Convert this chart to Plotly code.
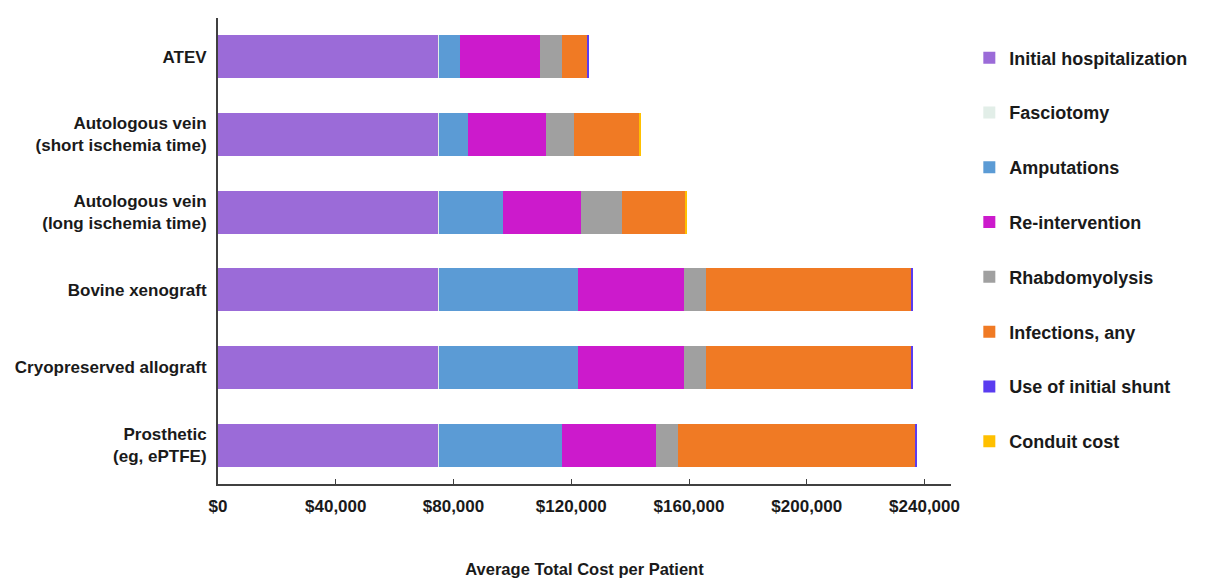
import plotly.graph_objects as go

categories = [
    "ATEV",
    "Autologous vein<br>(short ischemia time)",
    "Autologous vein<br>(long ischemia time)",
    "Bovine xenograft",
    "Cryopreserved allograft",
    "Prosthetic<br>(eg, ePTFE)",
]

initial_hospitalization = [74900, 74900, 74900, 75000, 75000, 75000]
fasciotomy = [200, 200, 200, 200, 200, 200]
amputations = [7200, 9700, 21700, 47000, 47000, 41500]
re_intervention = [27000, 26500, 26400, 36000, 36000, 32100]
rhabdomyolysis = [7700, 9600, 13900, 7600, 7600, 7600]
infections = [8400, 22200, 21700, 69800, 69800, 80600]
initial_shunt = [400, 0, 0, 400, 400, 600]
conduit_cost = [0, 400, 400, 0, 0, 0]

series = [
    ("Initial hospitalization", initial_hospitalization, "#9B6BD8"),
    ("Fasciotomy", fasciotomy, "#E2EEE8"),
    ("Amputations", amputations, "#5B9BD5"),
    ("Re-intervention", re_intervention, "#CC1ACC"),
    ("Rhabdomyolysis", rhabdomyolysis, "#A0A0A0"),
    ("Infections, any", infections, "#F07A24"),
    ("Use of initial shunt", initial_shunt, "#5A3CF0"),
    ("Conduit cost", conduit_cost, "#FFC000"),
]

x_tickvals = [0, 40000, 80000, 120000, 160000, 200000, 240000]
x_ticktext = ["$0", "$40,000", "$80,000", "$120,000", "$160,000", "$200,000", "$240,000"]

font_family = "Arial, Liberation Sans, sans-serif"

fig = go.Figure()
for i, (name, vals, color) in enumerate(series):
    fig.add_trace(go.Bar(
        y=categories, x=vals, name=name, orientation="h",
        marker=dict(color=color, line=dict(width=0)),
        legendgroup=f"g{i}",
        width=0.55,
    ))

fig.update_layout(
    barmode="stack",
    width=1213, height=584,
    margin=dict(l=218, r=262, t=18, b=100),
    paper_bgcolor="white", plot_bgcolor="white",
    font=dict(family=font_family, color="#1a1a1a"),
    showlegend=True,
    legend=dict(
        x=1.025, xanchor="left", y=0.954, yanchor="top",
        traceorder="grouped", tracegroupgap=28.4,
        font=dict(size=18, weight="bold", color="#1a1a1a"),
        itemwidth=30, bgcolor="rgba(0,0,0,0)",
    ),
)

fig.update_xaxes(
    range=[0, 249000],
    tickvals=x_tickvals, ticktext=x_ticktext,
    tickfont=dict(size=17, weight="bold", color="#1a1a1a"),
    ticks="inside", ticklen=5, tickcolor="#404040", tickwidth=1,
    showline=True, linecolor="#404040", linewidth=2,
    showgrid=False, zeroline=False, automargin=False,
    ticklabelstandoff=6,
    title=dict(text="Average Total Cost per Patient",
               font=dict(size=16.5, weight="bold", color="#1a1a1a"),
               standoff=48),
)
fig.update_yaxes(
    categoryorder="array", categoryarray=categories,
    autorange="reversed", automargin=False,
    tickfont=dict(size=17, weight="bold", color="#1a1a1a"),
    showline=True, linecolor="#404040", linewidth=2,
    showgrid=False, ticks="", ticklabelstandoff=6,
)

fig.write_html("out.html")
